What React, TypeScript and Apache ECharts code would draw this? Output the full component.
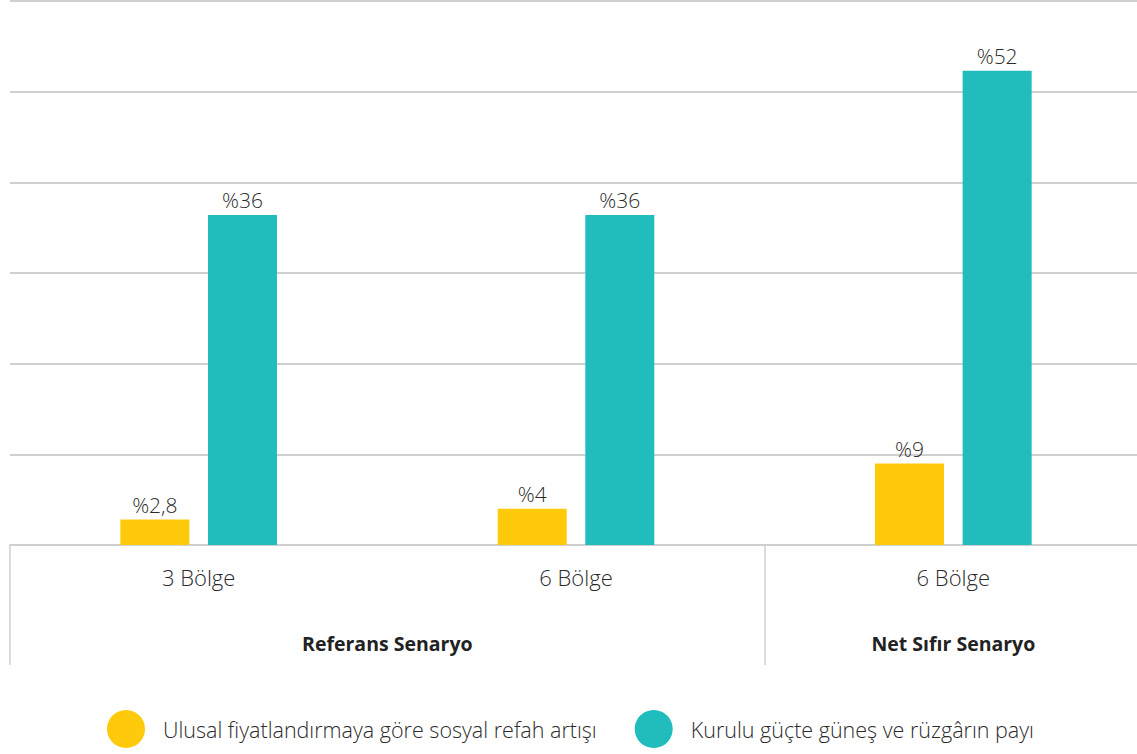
import React, { useEffect, useRef } from "react";
import * as echarts from "echarts";

const categories = ["3 Bölge", "6 Bölge", "6 Bölge"];
const welfareGain = [2.8, 4, 9];
const solarWindShare = [36.4, 36.4, 52.3];
const welfareLabels = ["%2,8", "%4", "%9"];
const shareLabels = ["%36", "%36", "%52"];
const groupNames = ["Referans Senaryo", "Net Sıfır Senaryo"];
const groupSpans = [2, 1];
const seriesNames = [
  "Ulusal fiyatlandırmaya göre sosyal refah artışı",
  "Kurulu güçte güneş ve rüzgârın payı",
];

const FONT = "'Open Sans', 'Noto Sans', sans-serif";

export default function App() {
  const ref = useRef<HTMLDivElement>(null);
  useEffect(() => {
    if (!ref.current) return;
    const chart = echarts.init(ref.current, null, { renderer: "svg" });
    const slots: string[] = new Array(categories.length * 2 + 1).fill("");
    const boundaries: number[] = [0];
    let pos = 0;
    groupNames.forEach((g, i) => {
      slots[pos * 2 + groupSpans[i]] = g;
      pos += groupSpans[i];
      boundaries.push(pos * 2);
    });
    chart.setOption({
      animation: false,
      textStyle: { fontFamily: FONT },
      grid: {
        left: 10,
        width: 1132,
        top: 1,
        bottom: 209,
        containLabel: false,
        outerBoundsMode: "none",
      },
      legend: {
        top: 705,
        left: 102,
        icon: "circle",
        itemWidth: 38,
        itemHeight: 38,
        itemGap: 38,
        textStyle: { fontSize: 21.5, color: "#2b2b2b", fontFamily: FONT, fontWeight: 300, padding: [0, 0, 0, 13] },
        data: seriesNames,
      },
      xAxis: [
        {
          type: "category",
          data: categories,
          axisLine: { lineStyle: { color: "#cfcfcf", width: 2 } },
          axisTick: { show: false },
          axisLabel: { fontSize: 22, color: "#2b2b2b", margin: 21, fontFamily: FONT, fontWeight: 300 },
        },
        {
          type: "category",
          gridIndex: 0,
          position: "bottom",
          data: slots,
          boundaryGap: false,
          axisLine: { show: false },
          axisTick: {
            show: true,
            length: 120,
            interval: (idx: number) => boundaries.slice(0, -1).includes(idx),
            lineStyle: { color: "#cfcfcf", width: 1.5 },
          },
          axisLabel: {
            interval: 0,
            fontSize: 19.5,
            fontWeight: "bold",
            color: "#222",
            margin: 88,
            fontFamily: FONT,
          },
        },
      ],
      yAxis: {
        type: "value",
        min: 0,
        max: 60,
        interval: 10,
        axisLabel: { show: false },
        axisLine: { show: false },
        axisTick: { show: false },
        splitLine: { lineStyle: { color: "#d0d0d0", width: 2 } },
      },
      series: [
        {
          name: seriesNames[0],
          type: "bar",
          data: welfareGain,
          barWidth: 69,
          barGap: "27%",
          itemStyle: { color: "#FFCA0B" },
          label: {
            show: true,
            position: "top",
            distance: 4,
            fontSize: 21,
            color: "#2b2b2b",
            fontFamily: FONT,
            fontWeight: 300,
            formatter: (p: any) => welfareLabels[p.dataIndex],
          },
        },
        {
          name: seriesNames[1],
          type: "bar",
          data: solarWindShare,
          barWidth: 69,
          barGap: "27%",
          itemStyle: { color: "#21BDBC" },
          label: {
            show: true,
            position: "top",
            distance: 4,
            fontSize: 21,
            color: "#2b2b2b",
            fontFamily: FONT,
            fontWeight: 300,
            formatter: (p: any) => shareLabels[p.dataIndex],
          },
        },
      ],
    });
    return () => chart.dispose();
  }, []);
  return (
    <div
      ref={ref}
      style={{ position: "absolute", left: 0, top: 0, width: 1137, height: 754 }}
    />
  );
}
